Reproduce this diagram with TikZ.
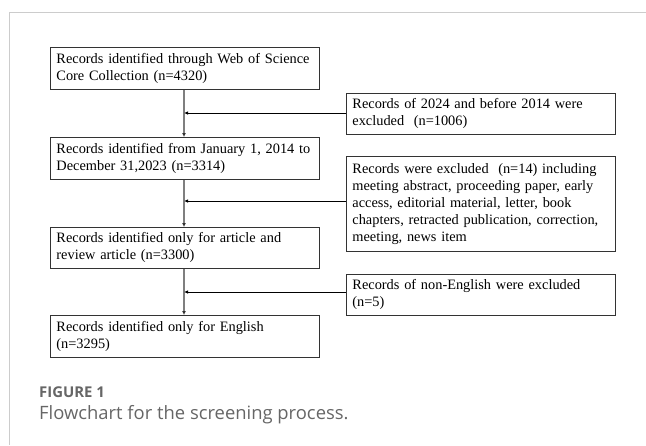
\documentclass[tikz,border=0pt]{standalone}
\usepackage{fontspec}
\setmainfont{Liberation Serif}
\newfontfamily\capfont{Open Sans}
\usetikzlibrary{arrows.meta}
\definecolor{framegray}{HTML}{CCCCCC}
\definecolor{boxline}{HTML}{333333}
\definecolor{vline}{HTML}{7F7F7F}
\definecolor{capgray}{HTML}{666666}
\begin{document}
\begin{tikzpicture}[x=1pt,y=-1pt,
  box/.style={draw=boxline, line width=0.9pt, rectangle, anchor=north west,
    minimum width=268pt, text width=257pt, inner xsep=6pt, inner ysep=0pt,
    align=left, font=\fontsize{14.35}{17}\selectfont},
  vflow/.style={draw=vline, line width=1.7pt, -{Latex[length=4pt,width=4pt,color=black!80]}},
  hflow/.style={draw=black, line width=0.8pt, -{Latex[length=4pt,width=3.5pt]}}]
\useasboundingbox (0,0) rectangle (646,445);
\draw[framegray, line width=1pt] (646,12) -- (9,12) -- (9,445);
\node[box, minimum height=42pt] (b1) at (50,47) {Records identified through Web of Science\\Core Collection (n=4320)};
\node[box, minimum height=42pt] (b2) at (50,137) {Records identified from January 1, 2014 to\\December 31,2023 (n=3314)};
\node[box, minimum height=41pt] (b3) at (50,227) {Records identified only for article and\\review article (n=3300)};
\node[box, minimum height=42pt] (b4) at (50,315) {Records identified only for English\\(n=3295)};
\node[box, minimum height=41pt] (e1) at (346,93) {Records of 2024 and before 2014 were\\excluded\ \ (n=1006)};
\node[box, minimum height=95pt] (e2) at (346,156) {Records were excluded\ \ (n=14) including\\meeting abstract, proceeding paper, early\\access, editorial material, letter, book\\chapters, retracted publication, correction,\\meeting, news item};
\node[box, minimum height=41pt] (e3) at (346,274) {Records of non-English were excluded\\(n=5)};
\coordinate (j1) at (184,113);
\coordinate (j2) at (184,201);
\coordinate (j3) at (184,292);
\draw[vflow] (b1.south -| j1) -- (b2.north -| j1);
\draw[vflow] (b2.south -| j2) -- (b3.north -| j2);
\draw[vflow] (b3.south -| j3) -- (b4.north -| j3);
\draw[hflow] (e1.west |- j1) -- (j1);
\draw[hflow] (e2.west |- j2) -- (j2);
\draw[hflow] (e3.west |- j3) -- (j3);
\node[anchor=base west, inner sep=0pt, text=capgray, font=\capfont\bfseries\fontsize{14.9}{17}\selectfont] (fig) at (39,397) {FIGURE 1};
\node[anchor=base west, inner sep=0pt, text=capgray, font=\capfont\fontsize{18.4}{21}\selectfont] (cap) at (39,419) {Flowchart for the screening process.};
\end{tikzpicture}
\end{document}
